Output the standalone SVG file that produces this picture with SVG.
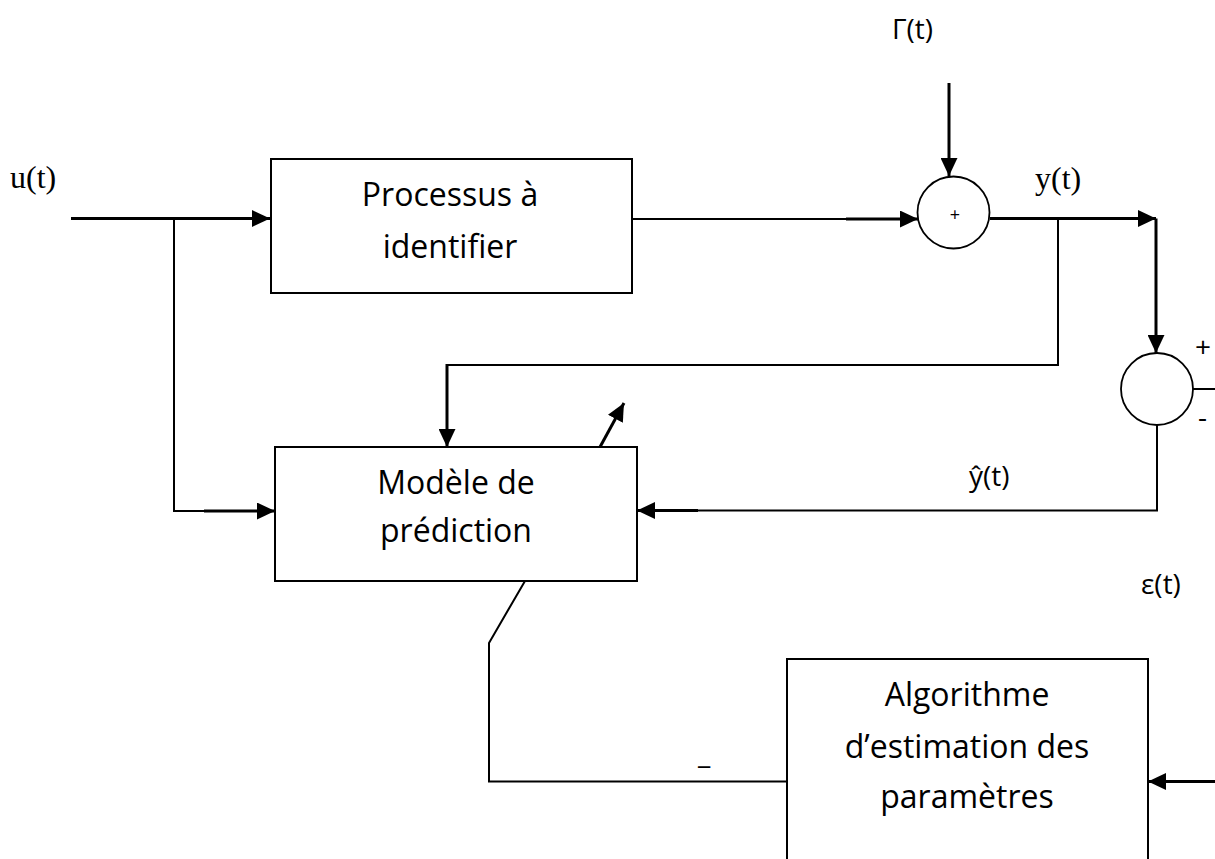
<svg xmlns="http://www.w3.org/2000/svg" width="1215" height="859" viewBox="0 0 1215 859">
<style>
.box{fill:#fff;stroke:#000;stroke-width:2}
.sum{fill:#fff;stroke:#000;stroke-width:1.8}
.t{font-family:"Open Sans","Noto Sans",sans-serif;font-size:32px;fill:#000;text-anchor:middle}
.lab{font-family:"Open Sans","Noto Sans",sans-serif;font-size:28px;fill:#000}
.ser{font-family:"Liberation Serif","Times New Roman",serif;font-size:32px;fill:#000}
.thin{fill:none;stroke:#000;stroke-width:2}
.thick{fill:none;stroke:#000;stroke-width:3}
</style>
<defs>
<marker id="ah" markerUnits="userSpaceOnUse" markerWidth="18" markerHeight="17" viewBox="0 0 17 16" refX="17" refY="8" orient="auto">
<path d="M0,0 L17,8 L0,16 Z" fill="#000"/>
</marker>
</defs>
<rect width="1215" height="859" fill="#fff"/>
<g id="connectors">
<path class="thick" d="M71,218.5 H270" marker-end="url(#ah)"/>
<path class="thin" d="M174,218.5 V511 H205"/>
<path class="thick" d="M204,511 H275" marker-end="url(#ah)"/>
<path class="thin" d="M632,219 H848"/>
<path class="thick" d="M846,219 H918" marker-end="url(#ah)"/>
<path class="thick" d="M949,83 V176" marker-end="url(#ah)"/>
<path class="thick" d="M990,218.5 H1156" marker-end="url(#ah)"/>
<path class="thick" d="M1156,218.5 V353" marker-end="url(#ah)"/>
<path class="thin" d="M1058,218.5 V365 H447"/>
<path class="thick" d="M447,364 V447" marker-end="url(#ah)"/>
<path class="thin" d="M1193,389 H1215"/>
<path class="thin" d="M1157,425 V510.5 H697"/>
<path class="thick" d="M698,510.5 H637" marker-end="url(#ah)"/>
<path class="thick" d="M600,447 L624,403" marker-end="url(#ah)"/>
<path class="thin" d="M525,581 L489,643 V781.5 H787"/>
<path class="thick" d="M1215,781.5 H1148" marker-end="url(#ah)"/>
</g>
<g id="n-process">
<rect class="box" x="271" y="159" width="361" height="134"/>
<text class="t" x="450" y="206">Processus à</text>
<text class="t" x="450" y="258">identifier</text>
</g>
<g id="n-model">
<rect class="box" x="275" y="447" width="362" height="134"/>
<text class="t" x="456" y="494">Modèle de</text>
<text class="t" x="456" y="542">prédiction</text>
</g>
<g id="n-algo">
<path class="box" d="M787,870 V659 H1148 V870"/>
<text class="t" x="967" y="706">Algorithme</text>
<text class="t" x="967" y="758">d’estimation des</text>
<text class="t" x="967" y="808">paramètres</text>
</g>
<g id="n-sum1">
<circle class="sum" cx="953.5" cy="212.5" r="36"/>
<text x="955" y="221" font-family="Open Sans, sans-serif" font-size="18" text-anchor="middle">+</text>
</g>
<g id="n-sum2">
<circle class="sum" cx="1157" cy="389" r="36"/>
<text class="lab" x="1195" y="357" font-size="26">+</text>
<text class="lab" x="1198" y="427" font-size="26">-</text>
</g>
<g id="labels">
<text class="ser" x="10" y="188">u(t)</text>
<text class="ser" x="1035" y="189">y(t)</text>
<text class="lab" x="892" y="39">Γ(t)</text>
<text class="lab" x="969" y="486">ŷ(t)</text>
<text class="lab" x="1141" y="594">ε(t)</text>
<text class="lab" x="698" y="764" font-size="20">_</text>
</g>
</svg>
